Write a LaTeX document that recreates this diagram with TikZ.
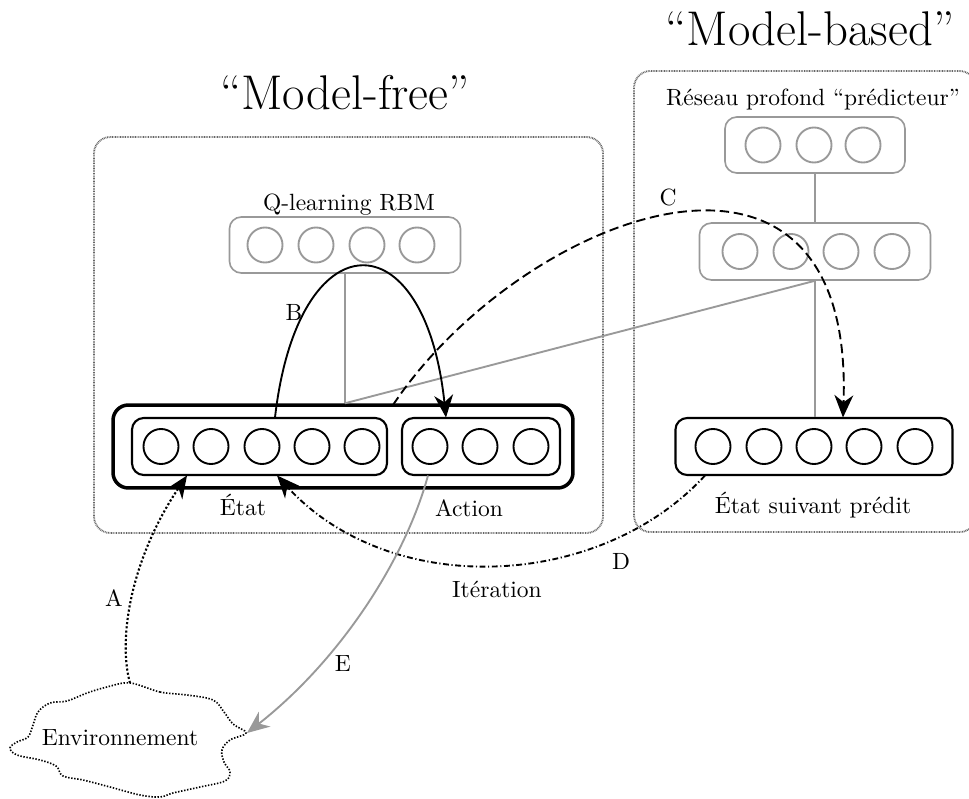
\documentclass[tikz,border=0pt]{standalone}
\usetikzlibrary{arrows.meta,calc}
\begin{document}
\begin{tikzpicture}[x=0.4255pt,y=-0.4255pt,
  neuron/.style={circle, draw, line width=0.8pt, minimum size=14.9pt, inner sep=0pt},
  gneuron/.style={neuron, draw=black!40},
  layer/.style={rectangle, rounded corners=5pt, draw, line width=0.9pt, inner sep=0pt},
  glayer/.style={layer, draw=black!40, line width=0.7pt},
  outerlayer/.style={layer, line width=1.5pt, rounded corners=6.5pt},
  container/.style={rectangle, draw=black!60, line width=0.8pt, dash pattern=on 0.35pt off 0.35pt, rounded corners=7pt, inner sep=0pt},
  glink/.style={draw=black!40, line width=0.8pt},
  lbl/.style={anchor=base, inner sep=0pt, font=\normalsize},
  title/.style={anchor=base, inner sep=0pt, font=\fontsize{20.74}{25}\selectfont},
  tip/.style={-{Stealth[length=9.5pt,width=8pt,inset=3pt]}},
  gtip/.style={-{Stealth[length=9.5pt,width=8pt,inset=3pt,color=black!40]}},
  dotline/.style={line width=0.9pt, dash pattern=on 0.9pt off 0.9pt},
  dashline/.style={line width=0.8pt, dash pattern=on 4pt off 2pt},
  dashdotline/.style={line width=0.8pt, dash pattern=on 2.5pt off 1.1pt on 0.5pt off 1.1pt},
]
\useasboundingbox (0,0) rectangle (969,799);

% containers
\node[container, minimum width=216.6pt, minimum height=168.5pt] (free) at (348.5,335) {};
\node[container, minimum width=145.5pt, minimum height=196.2pt] (based) at (805,301.5) {};

% titles
\node[title] (tfree) at (345,110) {“Model-free”};
\node[title] (tbased) at (810,46) {“Model-based”};

% Q-learning RBM
\node[lbl] (lrbm) at (349,210) {Q-learning RBM};
\node[glayer, minimum width=98.3pt, minimum height=23.8pt] (rbm) at (345,245) {};
\foreach \i/\x in {1/265,2/316,3/367,4/417}
  \node[gneuron] (r\i) at (\x,245) {};

% outer state-action layer
\node[outerlayer, minimum width=195.7pt, minimum height=35.3pt] (outer) at (343,446.5) {};
\node[layer, minimum width=108.5pt, minimum height=24.25pt] (etat) at (259.5,446.5) {};
\node[layer, minimum width=67.2pt, minimum height=24.25pt] (action) at (481,446.5) {};
\foreach \i/\x in {1/161,2/211,3/262,4/312,5/362}
  \node[neuron] (e\i) at (\x,446.5) {};
\foreach \i/\x in {1/430,2/480,3/531}
  \node[neuron] (a\i) at (\x,446.5) {};
\node[lbl] (letat) at (243,515) {État};
\node[lbl] (laction) at (469,516) {Action};

% predictor network
\node[lbl] (lpred) at (813,105) {Réseau profond “prédicteur”};
\node[glayer, minimum width=76.6pt, minimum height=23.8pt] (pred1) at (815,145) {};
\foreach \i/\x in {1/763,2/814,3/863}
  \node[gneuron] (p\i) at (\x,145) {};
\node[glayer, minimum width=98.3pt, minimum height=24.2pt] (pred2) at (815,251.5) {};
\foreach \i/\x in {1/740,2/791,3/841,4/892}
  \node[gneuron] (q\i) at (\x,251.5) {};

% predicted next state
\node[layer, minimum width=117.9pt, minimum height=24.25pt] (next) at (814,446.5) {};
\foreach \i/\x in {1/713,2/764,3/814,4/864,5/915}
  \node[neuron] (n\i) at (\x,446.5) {};
\node[lbl] (lnext) at (813,513) {État suivant prédit};

% environment cloud
\node[inner sep=0pt] (env) at (120,738) {Environnement};
\draw[line width=0.7pt, dash pattern=on 0.6pt off 0.7pt]
  plot[smooth cycle, tension=0.6] coordinates {
  (130,683) (160,692) (187,695) (213,700) (224,712) (233,724) (246,733)
  (230,740) (222,750) (224,762) (230,772) (225,781) (200,787) (173,793)
  (160,797) (140,795) (110,787) (83,780) (63,776) (56,766) (40,760)
  (17,755) (10,748) (17,742) (28,737) (33,725) (38,712) (50,703)
  (67,701) (87,693) (107,687)};
\coordinate (envtop) at (130,683);
\coordinate (envright) at (247,733);

% gray links
\coordinate (hub) at (rbm.south |- outer.north);
\draw[glink] (rbm.south) -- (hub);
\draw[glink] (pred1.south) -- (pred2.south |- pred2.north);
\draw[glink] (pred2.south) -- (hub);
\draw[glink] (pred2.south) -- (pred2.south |- next.north);

% anchor points on the layers
\coordinate (etatA) at (187,475.5);
\coordinate (etatB) at (275,417.5);
\coordinate (actB) at (446,417.5);
\coordinate (outC) at (393,405);
\coordinate (nextC) at (843,417.5);
\coordinate (nextD) at (705,475.5);
\coordinate (etatD) at (277,475.5);
\coordinate (actE) at (428,475.5);

% A
\draw[dotline, tip] (envtop) .. controls (118,640) and (130,560) .. (etatA);
\node[lbl] (la) at (114,606) {A};
% B
\draw[line width=0.8pt, tip] (etatB) .. controls (298,217) and (425,217) .. (actB);
\node[lbl] (lb) at (294,320) {B};
% C
\draw[dashline, tip] (outC) .. controls (520,215) and (855,85) .. (nextC);
\node[lbl] (lc) at (668,205) {C};
% D
\draw[dashdotline, tip] (nextD) .. controls (600,590) and (390,600) .. (etatD);
\node[lbl] (ld) at (621,569) {D};
\node[lbl] (liter) at (497,597) {Itération};
% E
\draw[draw=black!40, line width=0.8pt, gtip] (actE) .. controls (405,560) and (340,660) .. (envright);
\node[lbl] (le) at (343,671) {E};
\end{tikzpicture}
\end{document}
